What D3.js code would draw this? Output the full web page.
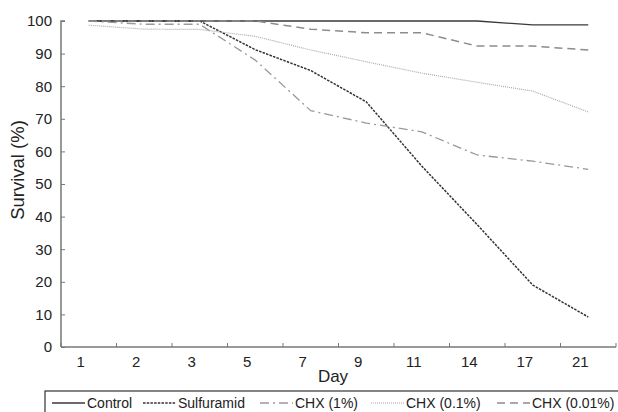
<!DOCTYPE html>
<html>
<head>
<meta charset="utf-8">
<script src="https://cdn.jsdelivr.net/npm/d3@7"></script>
<style>
  body { margin: 0; background: #fff; }
  svg { display: block; font-family: "Liberation Sans", Arial, sans-serif; }
</style>
</head>
<body>
<div id="chart"></div>
<script>
// values
const days = ["1", "2", "3", "5", "7", "9", "11", "14", "17", "21"];
const control     = [100, 100, 100, 100, 100, 100, 100, 100, 98.8, 98.8];
const sulfuramid  = [100, 100, 100, 91.2, 84.8, 75.2, 55.5, 37.5, 19.0, 9.2];
const chx1        = [100, 99, 99, 88, 72.5, 68.7, 66, 58.9, 57, 54.5];
const chx01       = [98.7, 97.5, 97.4, 95.3, 91.1, 87.5, 84, 81.2, 78.5, 72.1];
const chx001      = [100, 100, 100, 100, 97.5, 96.4, 96.4, 92.3, 92.3, 91.1];
const yTicks = [0, 10, 20, 30, 40, 50, 60, 70, 80, 90, 100];

const series = [
  {name: "Control",     values: control,    color: "#3a3a3a", width: 1.3, dash: null},
  {name: "Sulfuramid",  values: sulfuramid, color: "#333",    width: 1.5, dash: "2.5,1.2"},
  {name: "CHX (1%)",    values: chx1,       color: "#999",    width: 1.3, dash: "9,4,2,4"},
  {name: "CHX (0.1%)",  values: chx01,      color: "#aaa",    width: 1.2, dash: "1,1"},
  {name: "CHX (0.01%)", values: chx001,     color: "#8c8c8c", width: 1.5, dash: "8,5"}
];

const W = 618, H = 412;
const svg = d3.select("#chart").append("svg").attr("width", W).attr("height", H);

const x = d3.scaleBand().domain(days).range([61, 616]).padding(0);
const y = d3.scaleLinear().domain([0, 100]).range([347, 21]);

// y axis
const yAxis = svg.append("g").attr("transform", "translate(61,0)")
  .call(d3.axisRight(y).tickValues(yTicks).tickSize(4).tickFormat(d3.format("d")));
yAxis.select(".domain").attr("d", `M4,${y(100)}H0V${y(0)}`);
yAxis.selectAll("line").attr("stroke", "#777");
yAxis.selectAll(".domain").attr("stroke", "#777").attr("stroke-width", 1.5);
yAxis.selectAll("text").attr("x", -9).attr("text-anchor", "end")
  .attr("font-size", 15).attr("fill", "#222").attr("font-family", "Liberation Sans, Arial, sans-serif");

// x axis
const xAxis = svg.append("g").attr("transform", `translate(0,${y(0)})`)
  .call(d3.axisTop(x).tickSize(0).tickFormat(d => d));
xAxis.select(".domain").attr("d", `M61,0H616`).attr("stroke", "#777").attr("stroke-width", 1.5);
xAxis.selectAll("text").attr("transform", "translate(-8,0)").attr("y", 20)
  .attr("font-size", 15).attr("fill", "#222").attr("font-family", "Liberation Sans, Arial, sans-serif");
// band boundary ticks
svg.append("g").selectAll("line")
  .data(days.concat(["end"]))
  .join("line")
  .attr("x1", (d, i) => i < days.length ? x(d) : x.range()[1])
  .attr("x2", (d, i) => i < days.length ? x(d) : x.range()[1])
  .attr("y1", y(0) - 4).attr("y2", y(0))
  .attr("stroke", "#777");

// titles
svg.append("text").attr("x", 333).attr("y", 382).attr("text-anchor", "middle")
  .attr("font-size", 17).attr("fill", "#222").text("Day");
svg.append("text").attr("transform", "translate(24,170) rotate(-90)").attr("text-anchor", "middle")
  .attr("font-size", 18.5).attr("fill", "#222").text("Survival (%)");

// lines
const line = d3.line()
  .x((d, i) => x(days[i]) + x.bandwidth() / 2)
  .y(d => y(d));

svg.append("g").selectAll("path")
  .data(series)
  .join("path")
  .attr("d", d => line(d.values))
  .attr("fill", "none")
  .attr("stroke", d => d.color)
  .attr("stroke-width", d => d.width)
  .attr("stroke-dasharray", d => d.dash);

// legend
const legendX = [52, 143, 260, 371, 497];
svg.append("rect").attr("x", 45).attr("y", 391).attr("width", 575).attr("height", 30)
  .attr("fill", "none").attr("stroke", "#333").attr("stroke-width", 1.2);
const leg = svg.append("g").selectAll("g")
  .data(series)
  .join("g")
  .attr("transform", (d, i) => `translate(${legendX[i]},403)`);
leg.append("line").attr("x1", 0).attr("x2", 33).attr("y1", 0).attr("y2", 0)
  .attr("stroke", d => d.color).attr("stroke-width", d => d.width)
  .attr("stroke-dasharray", d => d.dash);
leg.append("text").attr("x", 35).attr("y", 5)
  .attr("font-size", 14).attr("fill", "#222").text(d => d.name);
</script>
</body>
</html>
